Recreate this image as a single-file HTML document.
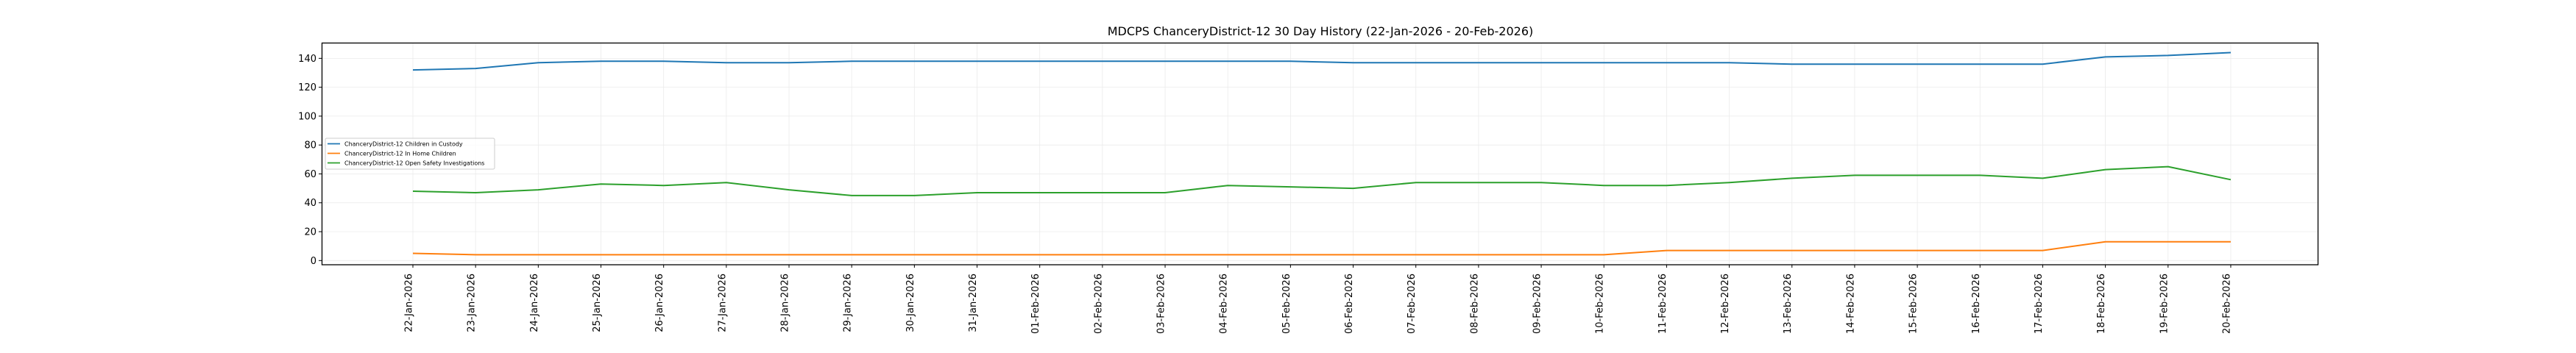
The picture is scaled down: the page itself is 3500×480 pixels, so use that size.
<!DOCTYPE html>
<html><head><meta charset="utf-8"><style>
html,body{margin:0;padding:0;background:#fff;}
svg{display:block;font-family:"DejaVu Sans","Liberation Sans",sans-serif;}
</style></head><body>
<svg id="s" width="3500" height="480" viewBox="0 0 3500 480" xmlns="http://www.w3.org/2000/svg">
<rect width="3500" height="480" fill="#fff"/>
<text x="1794" y="48" font-size="16" text-anchor="middle" fill="#000">MDCPS ChanceryDistrict-12 30 Day History (22-Jan-2026 - 20-Feb-2026)</text>
<g id="grid"></g>
<g id="lines"></g>
<rect x="437.5" y="58.5" width="2712" height="301.5" fill="none" stroke="#000" stroke-width="1.3"/>
<g id="ticks"></g>
<g>
<rect x="442" y="188" width="230" height="42" fill="#fff" fill-opacity="0.8" stroke="#ccc" stroke-width="1" rx="2"/>
<line x1="445" y1="195.5" x2="462" y2="195.5" stroke="#1f77b4" stroke-width="1.8"/>
<line x1="445" y1="208.5" x2="462" y2="208.5" stroke="#ff7f0e" stroke-width="1.8"/>
<line x1="445" y1="221.5" x2="462" y2="221.5" stroke="#2ca02c" stroke-width="1.8"/>
<text x="468" y="198.5" font-size="8" fill="#000">ChanceryDistrict-12 Children in Custody</text>
<text x="468" y="211.5" font-size="8" fill="#000">ChanceryDistrict-12 In Home Children</text>
<text x="468" y="224.5" font-size="8" fill="#000">ChanceryDistrict-12 Open Safety Investigations</text>
</g>
</svg>
<script>
var NS="http://www.w3.org/2000/svg";
function el(t,a,p,txt){var e=document.createElementNS(NS,t);for(var k in a)e.setAttribute(k,a[k]);if(txt!=null)e.textContent=txt;p.appendChild(e);return e;}
function X(i){return 561+i*85.17;}
function Y(v){return 354.3-1.964*v;}
var grid=document.getElementById('grid'),lines=document.getElementById('lines'),ticks=document.getElementById('ticks');
var labels=[];
for(var d=22;d<=31;d++)labels.push(d+"-Jan-2026");
for(var d=1;d<=20;d++)labels.push((d<10?"0"+d:d)+"-Feb-2026");
for(var i=0;i<30;i++){
 var x=X(i);
 el('line',{x1:x,y1:59,x2:x,y2:360,stroke:'#ebebeb','stroke-width':0.8},grid);
 el('line',{x1:x,y1:360,x2:x,y2:364,stroke:'#000','stroke-width':1},ticks);
 el('text',{x:0,y:0,'font-size':13,'text-anchor':'end',transform:'translate('+(x-1.5)+',372) rotate(-90)',fill:'#000'},ticks,labels[i]);
}
for(var v=0;v<=140;v+=20){
 var y=Y(v);
 el('line',{x1:438,y1:y,x2:3150,y2:y,stroke:'#ebebeb','stroke-width':0.8},grid);
 el('line',{x1:433,y1:y,x2:437.5,y2:y,stroke:'#000','stroke-width':1},ticks);
 el('text',{x:430,y:y+4.5,'font-size':13,'text-anchor':'end',fill:'#000'},ticks,String(v));
}
var blue=[132,133,137,138,138,137,137,138,138,138,138,138,138,138,138,137,137,137,137,137,137,137,136,136,136,136,136,141,142,144];
var orange=[5,4,4,4,4,4,4,4,4,4,4,4,4,4,4,4,4,4,4,4,7,7,7,7,7,7,7,13,13,13];
var green=[48,47,49,53,52,54,49,45,45,47,47,47,47,52,51,50,54,54,54,52,52,54,57,59,59,59,57,63,65,56];
[[blue,'#1f77b4'],[orange,'#ff7f0e'],[green,'#2ca02c']].forEach(function(s){
 var p=s[0].map(function(v,i){return X(i).toFixed(1)+','+Y(v).toFixed(1);}).join(' ');
 el('polyline',{points:p,fill:'none',stroke:s[1],'stroke-width':2,'stroke-linejoin':'round'},lines);
});
</script>
</body></html>
